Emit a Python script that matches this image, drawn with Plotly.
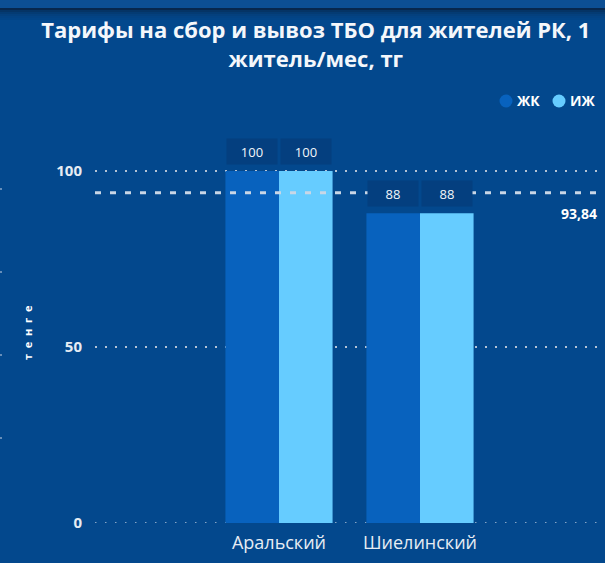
import plotly.graph_objects as go

categories = ["Аральский", "Шиелинский"]
series_names = ["ЖК", "ИЖ"]
zhk_values = [100, 88]
izh_values = [100, 88]
avg_value = 93.84
avg_label = "93,84"
y_ticks = [0, 50, 100]

colors = ["#0862BE", "#66CCFF"]
BG = "#03488D"
GRID = "#B4C3D6"
GRID_DASH = "1.5px,8.5px"
W, H = 605, 563
ML, MR, MT, MB = 95, 0, 150, 40
PW, PH = W - ML - MR, H - MT - MB
FONT = "Open Sans"

x_idx = list(range(len(categories)))
bargap = 0.24
bw = (1 - bargap) / 2
offsets = [-bw / 2, bw / 2]


def px_x(px):
    return (px - ML) / PW


def px_y(py):
    return (H - MB - py) / PH


fig = go.Figure()
for name, vals, col in zip(series_names, [zhk_values, izh_values], colors):
    fig.add_trace(go.Bar(x=x_idx, y=vals, name=name, marker=dict(color=col, line=dict(width=0)),
                         showlegend=False, hoverinfo="skip"))

# baseline gridline (plotly omits the one at the range edge)
fig.add_shape(type="line", xref="paper", yref="y", x0=0, x1=1, y0=y_ticks[0], y1=y_ticks[0],
              line=dict(color=GRID, width=1.5, dash=GRID_DASH), layer="below")

# average dashed line
fig.add_shape(type="line", xref="paper", yref="y", x0=0, x1=1, y0=avg_value, y1=avg_value,
              line=dict(color="#C9D6E6", width=3, dash="6px,9px"), layer="above")
fig.add_annotation(xref="paper", yref="y", x=px_x(599), y=avg_value, text=avg_label, showarrow=False,
                   xanchor="right", yanchor="middle", yshift=-21,
                   font=dict(family=FONT, size=14, color="#FFFFFF", weight="bold"))

# data labels
for vals, off in zip([zhk_values, izh_values], offsets):
    for i, v in zip(x_idx, vals):
        fig.add_annotation(x=i + off, y=v, xref="x", yref="y", text=str(v), showarrow=False,
                           yshift=20, font=dict(family=FONT, size=13, color="#F2F6FA"),
                           bgcolor="#043F7F", borderpad=3, width=44, height=19)

# custom legend
leg_x = [506, 559]
for name, col, lx in zip(series_names, colors, leg_x):
    fig.add_shape(type="circle", xref="paper", yref="paper",
                  x0=px_x(lx - 6.5), x1=px_x(lx + 6.5), y0=px_y(101 + 6.5), y1=px_y(101 - 6.5),
                  fillcolor=col, line=dict(width=0))
    fig.add_annotation(xref="paper", yref="paper", x=px_x(lx + 9), y=px_y(101), text="<b>%s</b>" % name,
                       showarrow=False, xanchor="left", yanchor="middle",
                       font=dict(family=FONT, size=14, color="#FFFFFF"))

# y-axis title
fig.add_annotation(xref="paper", yref="paper", x=px_x(27), y=px_y(333),
                   text="<b>т  е  н  г  е</b>", textangle=-90, showarrow=False, xanchor="center", yanchor="middle",
                   font=dict(family=FONT, size=11, color="#FFFFFF"))

# top strip decoration
fig.add_shape(type="rect", xref="paper", yref="paper", x0=-1, x1=2, y0=px_y(8), y1=px_y(-2),
              fillcolor="#0C4F94", line=dict(width=0), layer="below")
for k, op in enumerate([0.9, 0.55, 0.35, 0.22, 0.12, 0.06]):
    y0 = 8 + k * 2
    fig.add_shape(type="rect", xref="paper", yref="paper", x0=-1, x1=2,
                  y0=px_y(y0 + 2), y1=px_y(y0),
                  fillcolor="rgba(8,36,70,%.2f)" % op, line=dict(width=0), layer="below")

# faint left-edge dots
fig.add_shape(type="line", xref="paper", yref="paper", x0=px_x(1), x1=px_x(1),
              y0=px_y(188), y1=px_y(440),
              line=dict(color="rgba(170,190,215,0.6)", width=2, dash="2px,81px"))

fig.update_layout(
    width=W, height=H, paper_bgcolor=BG, plot_bgcolor=BG,
    margin=dict(l=ML, r=MR, t=MT, b=MB),
    barmode="group", bargap=bargap, bargroupgap=0, showlegend=False,
    title=dict(text="<b>Тарифы на сбор и вывоз ТБО для жителей РК, 1<br>житель/мес, тг</b>",
               x=0.522, xanchor="center", y=1 - 38 / H, yanchor="middle",
               font=dict(family=FONT, size=22, color="#F4F7FB")),
    xaxis=dict(range=[-(279 - ML) / 141, -(279 - ML) / 141 + PW / 141],
               tickvals=x_idx, ticktext=categories, showgrid=False, zeroline=False, showline=False,
               tickfont=dict(family=FONT, size=18, color="#E6ECF3"), ticks="", ticklabelstandoff=7),
    yaxis=dict(range=[0, PH / 3.52], tickvals=y_ticks, showgrid=True,
               gridcolor=GRID, griddash=GRID_DASH, gridwidth=1.5, zeroline=False,
               tickfont=dict(family=FONT, size=15, color="#E6ECF3", weight="bold"), ticklabelstandoff=12),
)

fig.write_html("out.html", config={"displayModeBar": False},
               post_script="document.body.style.margin='0';document.body.style.overflow='hidden';")
